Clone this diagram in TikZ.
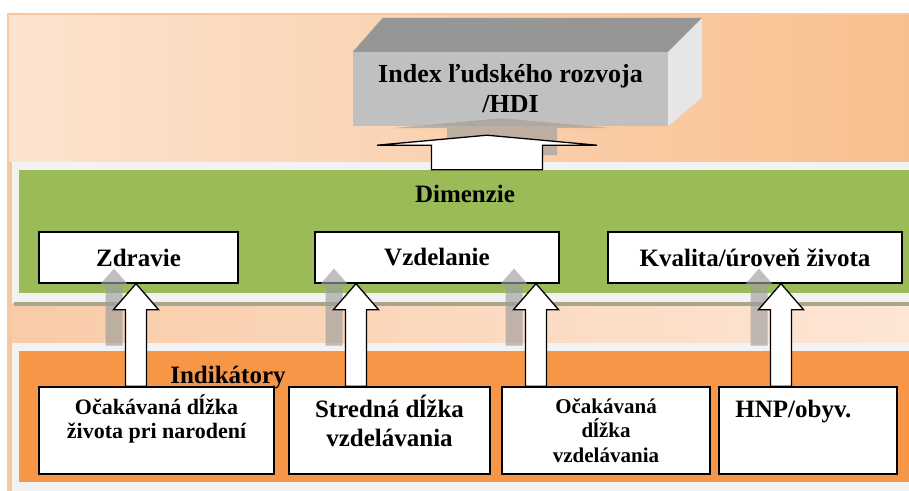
\documentclass[tikz,border=0pt]{standalone}
\usepackage{fontspec}
\setmainfont{Liberation Serif}
\usetikzlibrary{positioning}
\definecolor{peachA}{HTML}{FCE3CF}
\definecolor{peachB}{HTML}{F8BF8E}
\definecolor{peachC}{HTML}{F9CBA7}
\definecolor{peachD}{HTML}{FDE6D5}
\definecolor{frameline}{HTML}{F9C79C}
\definecolor{panelgrey}{HTML}{F2F2F2}
\definecolor{dimgreen}{HTML}{9BBB59}
\definecolor{indorange}{HTML}{F79646}
\definecolor{hatchline}{HTML}{A9A68E}
\definecolor{cubefront}{HTML}{C0C0C0}
\definecolor{cubetop}{HTML}{969696}
\definecolor{cubeside}{HTML}{E6E6E6}
\tikzset{
  bigtext/.style={font=\bfseries\fontsize{25}{30}\selectfont},
  dimbox/.style={draw, line width=1.3pt, fill=white, minimum height=51pt, inner sep=0pt, bigtext},
  indbox/.style={draw, line width=1.6pt, fill=white, minimum height=87pt, inner sep=0pt},
  indtext/.style={inner sep=0pt, align=center},
  band/.style={inner sep=0pt, minimum width=890pt},
  whitearrow/.style={draw, fill=white, line width=1.3pt, line join=miter},
  shadowgrey/.style={fill=black!38, fill opacity=0.65},
}
\newcommand{\blockarrow}[2]{%
  \draw[whitearrow] (#1) -- ([xshift=22.5pt,yshift=-26pt]#1) -- ([xshift=10.5pt,yshift=-26pt]#1)
    -- ([xshift=10.5pt]#2) -- ([xshift=-10.5pt]#2) -- ([xshift=-10.5pt,yshift=-26pt]#1)
    -- ([xshift=-22.5pt,yshift=-26pt]#1) -- cycle;}
\newcommand{\shadowarrow}[1]{%
  \fill[shadowgrey] ([xshift=-22pt,yshift=15pt]#1) -- ++(15pt,-17pt) -- ++(-6.5pt,0pt)
    -- ++(0pt,-60pt) -- ++(-17pt,0pt) -- ++(0pt,60pt) -- ++(-6.5pt,0pt) -- cycle;}
\begin{document}
\begin{tikzpicture}[x=1pt, y=-1pt]
  \useasboundingbox (0,0) rectangle (909,490);
  % background bands
  \fill[white] (0,0) rectangle (909,490);
  \shade[left color=peachA, right color=peachB] (8,14) rectangle (912,162);
  \fill[panelgrey] (12,162) rectangle (912,303);
  \shade[left color=peachC, middle color=peachD, right color=peachD] (8,303) rectangle (912,343);
  \fill[panelgrey] (12,343) rectangle (912,493);
  \fill[frameline] (8,162) rectangle (12,493);
  \draw[frameline, line width=1.5pt] (912,14) -- (8,14) -- (8,493);
  \node[band, fill=dimgreen, minimum height=123pt] (dimband) at (464,231.5) {};
  \draw[hatchline, line width=4pt] (14,304) -- (909,304);
  \node[band, fill=indorange, minimum height=131pt] (indband) at (464,416.5) {};

  % HDI block
  \node[fill=cubefront, minimum width=315pt, minimum height=74pt, align=center,
        font=\bfseries\fontsize{26}{30}\selectfont] (hdi) at (510.5,89) {Index ľudského rozvoja\\/HDI};
  \fill[cubetop] (hdi.north west) -- ([shift={(30pt,34pt)}]hdi.north west)
    -- ([shift={(34pt,34pt)}]hdi.north east) -- (hdi.north east) -- cycle;
  \fill[cubeside] (hdi.north east) -- ([shift={(34pt,34pt)}]hdi.north east)
    -- ([shift={(34pt,29pt)}]hdi.south east) -- (hdi.south east) -- cycle;

  % dimensions
  \node[bigtext, anchor=base] (dimlabel) at (465,202) {Dimenzie};
  \node[dimbox, minimum width=199pt] (zdr) at (138.5,257.5) {Zdravie};
  \node[dimbox, minimum width=244pt] (vzd) at (437,257.5) {Vzdelanie};
  \node[dimbox, minimum width=294pt] (kva) at (755,257.5) {Kvalita/úroveň života};

  % indicators
  \node[indbox, minimum width=235pt] (ind1) at (156.5,430.5) {};
  \node[indbox, minimum width=201pt] (ind2) at (389.5,430.5) {};
  \node[indbox, minimum width=208pt] (ind3) at (606,430.5) {};
  \node[indbox, minimum width=178pt] (ind4) at (808,430.5) {};
  \node[indtext, font=\bfseries\fontsize{22}{24}\selectfont, below=8pt of ind1.north] (ind1txt)
    {Očakávaná dĺžka\\života pri narodení};
  \node[indtext, font=\bfseries\fontsize{25}{29}\selectfont, below=9pt of ind2.north] (ind2txt)
    {Stredná dĺžka\\vzdelávania};
  \node[indtext, font=\bfseries\fontsize{21}{24.5}\selectfont, below=12pt of ind3.north] (ind3txt)
    {Očakávaná\\dĺžka\\vzdelávania};
  \node[indtext, bigtext, below right=14pt and 17pt of ind4.north west] (ind4txt) {HNP/obyv.};

  % arrows
  \foreach \boxup/\dx/\boxdn/\k in {zdr/-2.5/ind1/1, vzd/-81/ind2/2, vzd/99/ind3/3, kva/26/ind4/4} {
    \coordinate (t\k) at ([xshift=\dx pt]\boxup.south);
    \coordinate (b\k) at (t\k |- \boxdn.north);
  }
  \coordinate (tt) at ([xshift=-23.5pt,yshift=-9pt]hdi.south);
  \coordinate (tb) at (tt |- dimband.north);
  \fill[shadowgrey] ([shift={(15pt,17pt)}]tt) -- ++(110pt,-10pt) -- ++(-55pt,0pt) -- ++(0pt,-27pt)
    -- ++(-110pt,0pt) -- ++(0pt,27pt) -- ++(-55pt,0pt) -- cycle;
  \draw[whitearrow] (tt) -- ([shift={(110pt,-10pt)}]tt) -- ([shift={(55.5pt,-10pt)}]tt)
    -- ([xshift=55.5pt]tb) -- ([xshift=-55.5pt]tb) -- ([shift={(-55.5pt,-10pt)}]tt)
    -- ([shift={(-110pt,-10pt)}]tt) -- cycle;
  \foreach \k in {1,...,4} {
    \shadowarrow{t\k}
    \blockarrow{t\k}{b\k}
  }
  \node[bigtext, anchor=base] (indlabel) at (228,383) {Indikátory};
\end{tikzpicture}
\end{document}
